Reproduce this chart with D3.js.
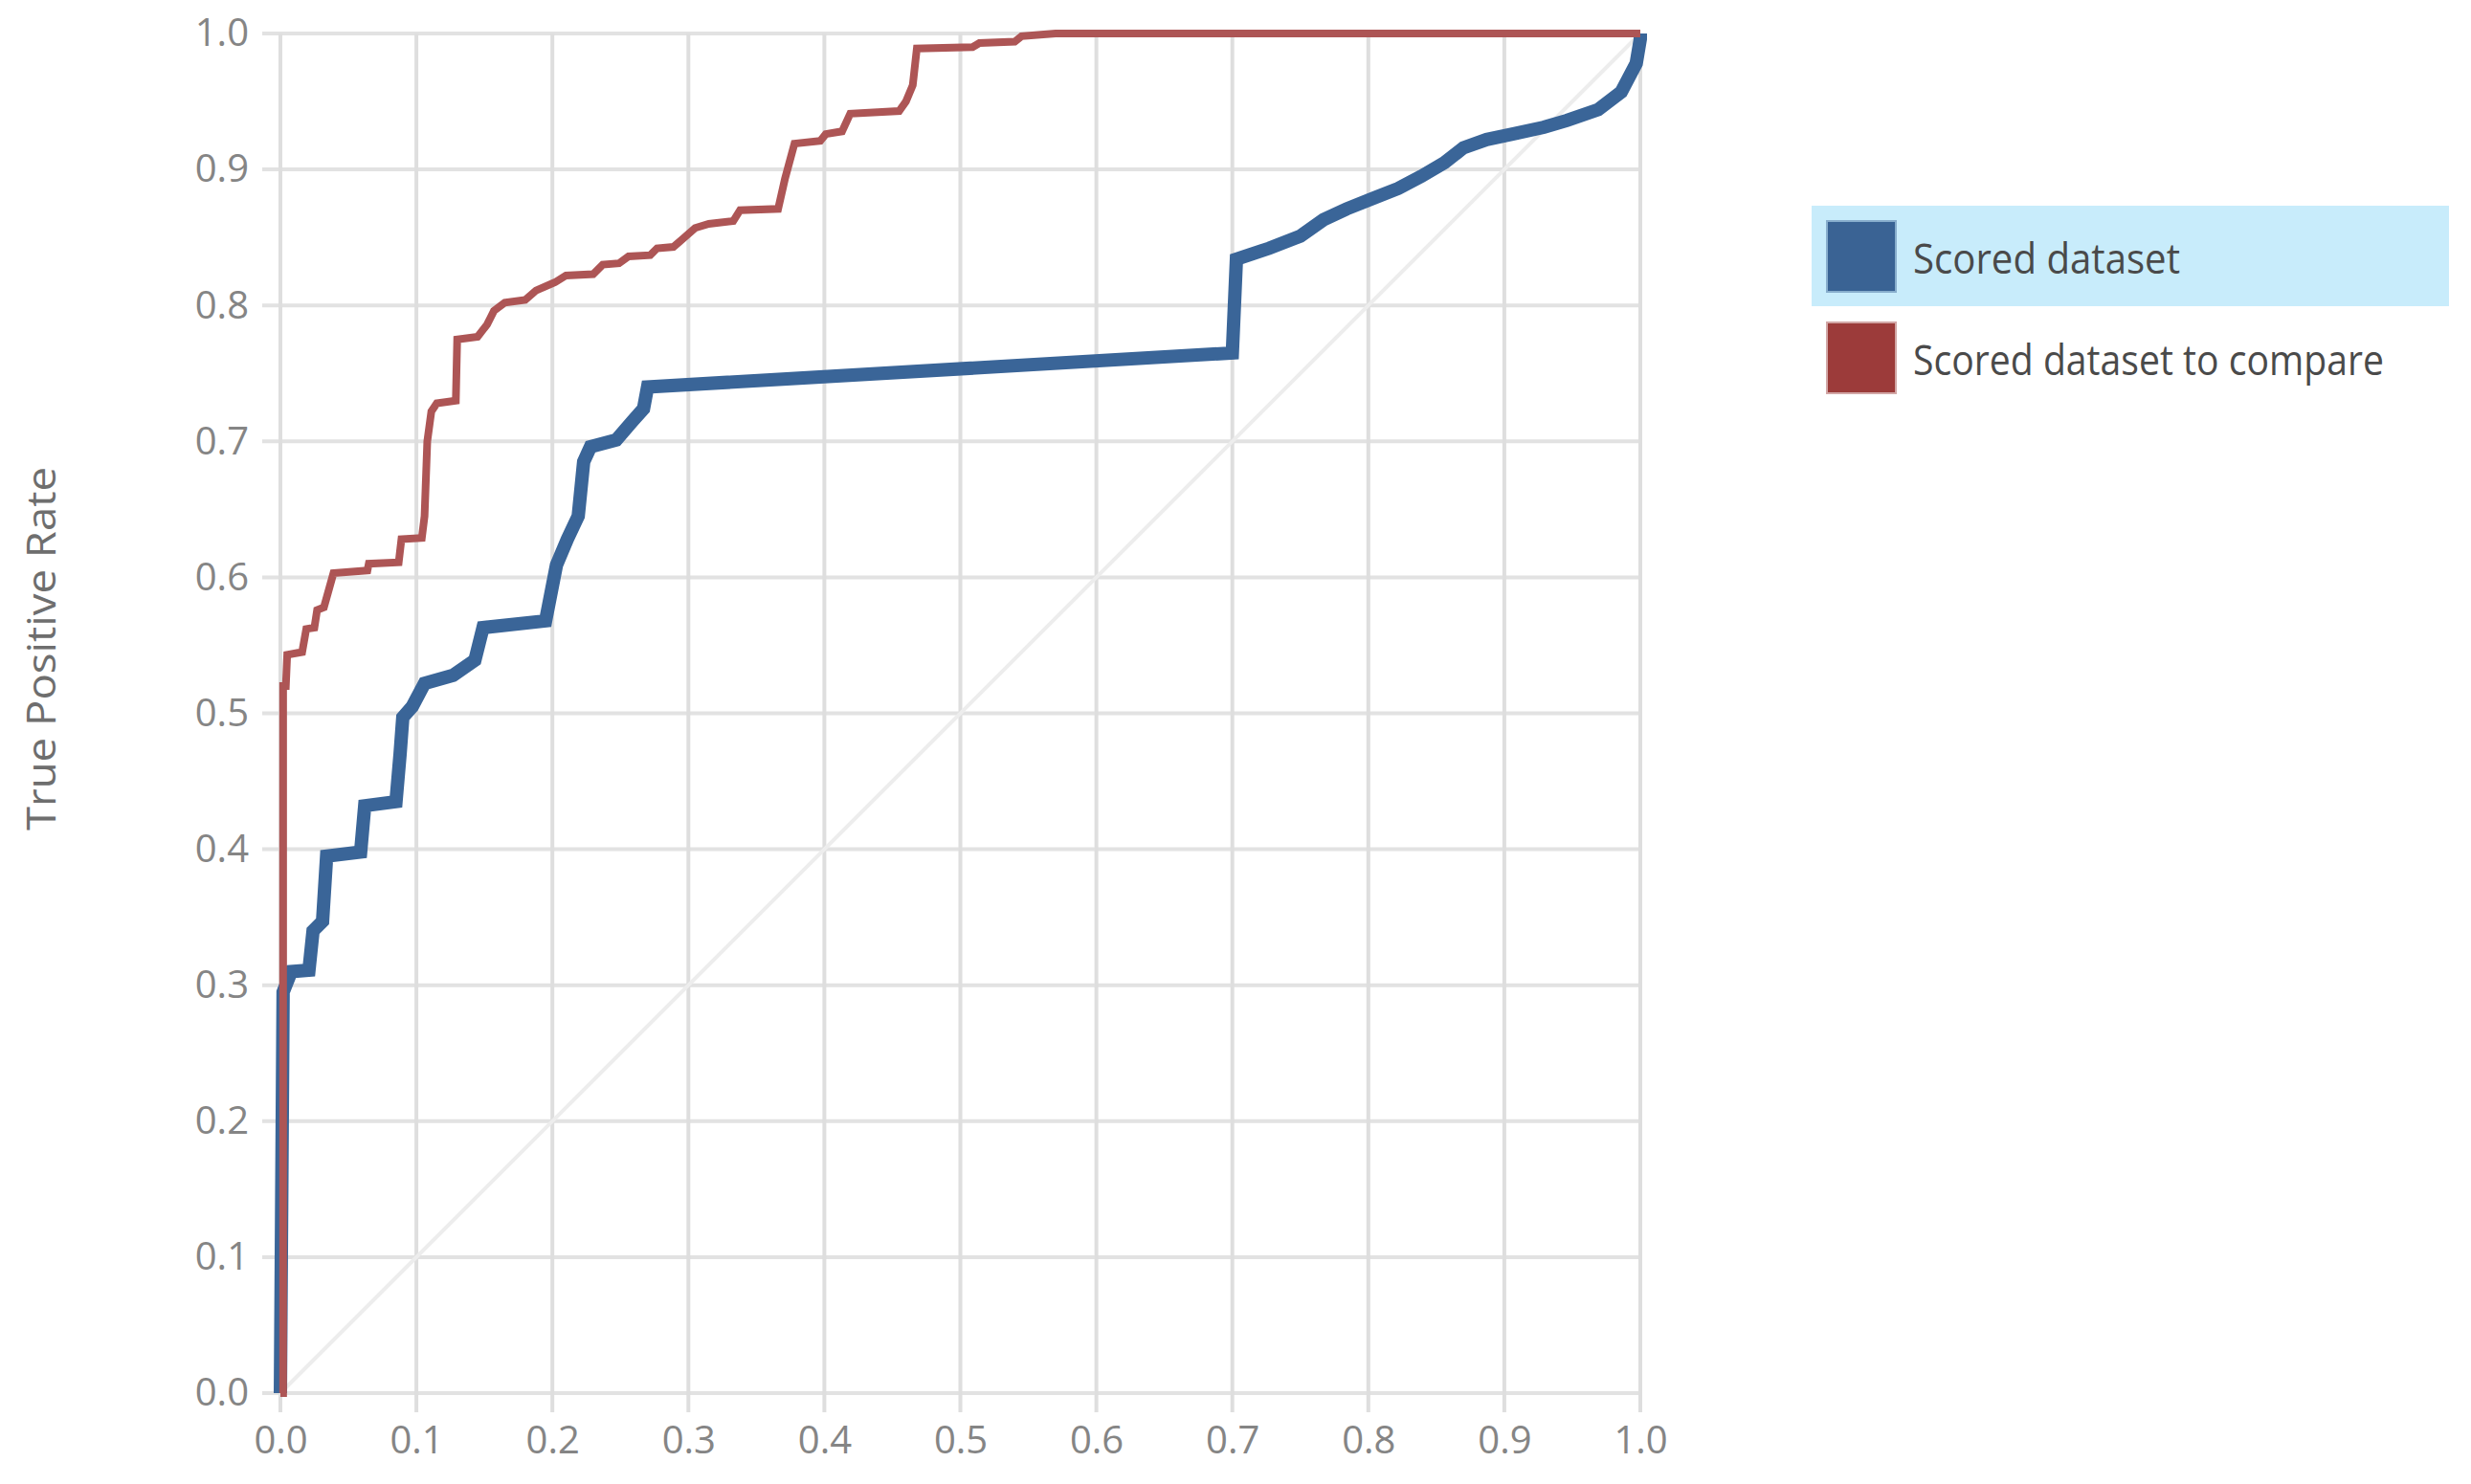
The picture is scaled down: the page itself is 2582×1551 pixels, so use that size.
<!DOCTYPE html>
<html>
<head>
<meta charset="utf-8">
<script src="https://cdn.jsdelivr.net/npm/d3@7"></script>
<style>
  html, body { margin: 0; padding: 0; background: #ffffff; }
  svg { display: block; }
</style>
</head>
<body>
<svg id="chart" width="2582" height="1551"></svg>
<script>
// ---------- data ----------
const xTicks = [0, 0.1, 0.2, 0.3, 0.4, 0.5, 0.6, 0.7, 0.8, 0.9, 1.0];
const yTicks = [0, 0.1, 0.2, 0.3, 0.4, 0.5, 0.6, 0.7, 0.8, 0.9, 1.0];
const seriesNames = ["Scored dataset", "Scored dataset to compare"];
const yAxisTitle = "True Positive Rate";

// "Scored dataset" ROC curve (FPR, TPR)
const scoredFpr = [0, 0.002, 0.008, 0.021, 0.024, 0.031, 0.034, 0.059, 0.062, 0.085, 0.088, 0.090, 0.097, 0.106, 0.127, 0.143, 0.149, 0.195, 0.203, 0.211, 0.219, 0.223, 0.228, 0.247, 0.259, 0.267, 0.270, 0.700, 0.703, 0.727, 0.750, 0.767, 0.784, 0.804, 0.822, 0.839, 0.856, 0.870, 0.887, 0.906, 0.929, 0.946, 0.969, 0.986, 0.997, 1.0, 1.0];
const scoredTpr = [0, 0.295, 0.310, 0.311, 0.340, 0.347, 0.395, 0.398, 0.432, 0.435, 0.470, 0.497, 0.505, 0.522, 0.528, 0.539, 0.563, 0.568, 0.609, 0.628, 0.645, 0.685, 0.696, 0.701, 0.715, 0.724, 0.740, 0.765, 0.834, 0.842, 0.851, 0.863, 0.871, 0.879, 0.886, 0.895, 0.905, 0.916, 0.922, 0.926, 0.931, 0.936, 0.944, 0.957, 0.978, 0.996, 1.0];

// "Scored dataset to compare" ROC curve (FPR, TPR)
const compareFpr = [0, 0.002, 0.002, 0.004, 0.005, 0.016, 0.019, 0.025, 0.027, 0.032, 0.039, 0.064, 0.065, 0.087, 0.089, 0.104, 0.106, 0.108, 0.111, 0.115, 0.129, 0.130, 0.145, 0.152, 0.157, 0.165, 0.180, 0.188, 0.202, 0.210, 0.230, 0.237, 0.249, 0.256, 0.272, 0.277, 0.289, 0.296, 0.305, 0.315, 0.333, 0.338, 0.366, 0.371, 0.378, 0.397, 0.401, 0.413, 0.419, 0.455, 0.460, 0.465, 0.468, 0.509, 0.514, 0.540, 0.545, 0.570, 1.0];
const compareTpr = [0, 0.0, 0.520, 0.520, 0.543, 0.545, 0.562, 0.563, 0.576, 0.578, 0.603, 0.605, 0.610, 0.611, 0.628, 0.629, 0.645, 0.700, 0.722, 0.728, 0.730, 0.775, 0.777, 0.786, 0.796, 0.802, 0.804, 0.811, 0.817, 0.822, 0.823, 0.830, 0.831, 0.836, 0.837, 0.842, 0.843, 0.849, 0.857, 0.860, 0.862, 0.870, 0.871, 0.893, 0.919, 0.921, 0.926, 0.928, 0.941, 0.943, 0.950, 0.962, 0.989, 0.990, 0.993, 0.994, 0.998, 1.0, 1.0];

const seriesColors = ["#3a6598", "#ad5555"];
const swatchColors = ["#3a6394", "#9c3b3a"];

// ---------- layout ----------
const svg = d3.select("#chart");
const x = d3.scaleLinear().domain([0, 1]).range([293, 1714]);
const y = d3.scaleLinear().domain([0, 1]).range([1456, 35]);
const FONT = "'Open Sans', 'Noto Sans', sans-serif";

svg.append("rect").attr("width", 2582).attr("height", 1551).attr("fill", "#ffffff");

// grid lines (extend as ticks beyond the plot)
const grid = svg.append("g");
grid.selectAll("line.h").data(yTicks).join("line")
  .attr("x1", x(0) - 19).attr("x2", x(1))
  .attr("y1", d => y(d)).attr("y2", d => y(d))
  .attr("stroke", "#e2e2e2").attr("stroke-width", 4);
grid.selectAll("line.v").data(xTicks).join("line")
  .attr("x1", d => x(d)).attr("x2", d => x(d))
  .attr("y1", y(1)).attr("y2", y(0) + 20)
  .attr("stroke", "#dedede").attr("stroke-width", 4);

// diagonal reference
svg.append("line")
  .attr("x1", x(0)).attr("y1", y(0)).attr("x2", x(1)).attr("y2", y(1))
  .attr("stroke", "#ededed").attr("stroke-width", 4);

// axes labels
const xAxis = d3.axisBottom(x).tickValues(xTicks).tickFormat(d3.format(".1f"))
  .tickSize(0).tickPadding(35);
const gx = svg.append("g").attr("transform", `translate(0,${y(0)})`).call(xAxis);
const yAxis = d3.axisLeft(y).tickValues(yTicks).tickFormat(d3.format(".1f"))
  .tickSize(0).tickPadding(33);
const gy = svg.append("g").attr("transform", `translate(${x(0)},0)`).call(yAxis);
[gx, gy].forEach(g => {
  g.select(".domain").remove();
  g.selectAll("text").attr("font-family", FONT).attr("font-size", 40).attr("fill", "#858585");
});

// axis title
svg.append("text")
  .attr("transform", `translate(58,678) rotate(-90)`)
  .attr("text-anchor", "middle")
  .attr("font-family", FONT).attr("font-size", 42).attr("fill", "#6e6e6e")
  .attr("textLength", 380).attr("lengthAdjust", "spacingAndGlyphs")
  .text(yAxisTitle);

// curves
const line = d3.line().x(d => x(d[0])).y(d => y(d[1]));
const scored = scoredFpr.map((f, i) => [f, scoredTpr[i]]);
const compare = compareFpr.map((f, i) => [f, compareTpr[i]]);
svg.append("path").datum(scored).attr("d", line)
  .attr("fill", "none").attr("stroke", seriesColors[0]).attr("stroke-width", 14)
  .attr("stroke-linejoin", "miter");
svg.append("path").datum(compare).attr("d", line)
  .attr("fill", "none").attr("stroke", seriesColors[1]).attr("stroke-width", 8)
  .attr("stroke-linejoin", "miter");

// legend
const legend = svg.append("g");
legend.append("rect").attr("x", 1893).attr("y", 215).attr("width", 666).attr("height", 105)
  .attr("fill", "#c8ecfb");
const legendRows = seriesNames.map((n, i) => ({ name: n, color: swatchColors[i], cy: 268 + i * 106 }));
legend.selectAll("rect.sw").data(legendRows).join("rect")
  .attr("class", "sw")
  .attr("x", 1910).attr("y", d => d.cy - 36).attr("width", 70).attr("height", 72)
  .attr("fill", d => d.color)
  .attr("stroke", d => d.color).attr("stroke-opacity", 0.45).attr("stroke-width", 4);
const widths = [279, 492];
legend.selectAll("text.lt").data(legendRows).join("text")
  .attr("class", "lt")
  .attr("x", 1999).attr("y", d => d.cy + 18)
  .attr("font-family", FONT).attr("font-size", 44).attr("fill", "#4a4a4a")
  .attr("textLength", (d, i) => widths[i]).attr("lengthAdjust", "spacingAndGlyphs")
  .text(d => d.name);
</script>
</body>
</html>
